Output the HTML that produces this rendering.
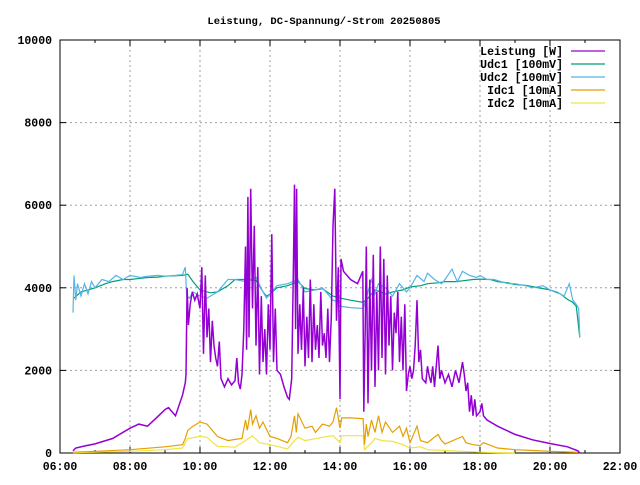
<!DOCTYPE html>
<html><head><meta charset="utf-8"><style>
body{margin:0;background:#fff}
svg text{font-family:"Liberation Mono",monospace;font-weight:bold;font-size:11.5px;fill:#000}
</style></head><body>
<svg id="chart" width="640" height="480" xmlns="http://www.w3.org/2000/svg">
<text x="324" y="24" text-anchor="middle" style="font-size:10.5px">Leistung, DC-Spannung/-Strom 20250805</text>
<g id="grid"></g>
<g id="axes"></g>
<g id="series"></g>
<g id="legend"></g>
</svg>
<script>
const xTicks=[6,8,10,12,14,16,18,20,22];
const xTickLabels=["06:00","08:00","10:00","12:00","14:00","16:00","18:00","20:00","22:00"];
const yTicks=[0,2000,4000,6000,8000,10000];
const seriesNames=["Leistung [W]","Udc1 [100mV]","Udc2 [100mV]","Idc1 [10mA]","Idc2 [10mA]"];
const seriesColors=["#9400d3","#009e73","#56b4e9","#e69f00","#f0e442"];
const pwT=[6.37,6.45,6.7,7.0,7.5,8.0,8.25,8.5,8.75,9.0,9.1,9.3,9.5,9.58,9.6,9.63,9.67,9.72,9.78,9.85,9.92,10.0,10.05,10.1,10.15,10.2,10.25,10.3,10.35,10.4,10.45,10.5,10.55,10.6,10.7,10.8,10.9,11.0,11.05,11.1,11.15,11.2,11.25,11.3,11.33,11.37,11.4,11.45,11.5,11.55,11.6,11.65,11.7,11.75,11.8,11.85,11.9,11.95,12.0,12.05,12.1,12.15,12.2,12.3,12.4,12.5,12.55,12.62,12.67,12.7,12.73,12.76,12.8,12.85,12.9,12.95,13.0,13.05,13.1,13.15,13.2,13.25,13.3,13.35,13.4,13.45,13.5,13.55,13.6,13.65,13.7,13.75,13.8,13.85,13.9,13.95,14.0,14.03,14.1,14.3,14.5,14.6,14.65,14.68,14.72,14.75,14.8,14.85,14.9,14.95,15.0,15.05,15.1,15.15,15.2,15.25,15.3,15.35,15.4,15.45,15.5,15.55,15.6,15.65,15.7,15.75,15.8,15.85,15.9,15.95,16.0,16.05,16.1,16.15,16.2,16.25,16.3,16.35,16.45,16.5,16.55,16.6,16.65,16.7,16.8,16.85,16.9,17.0,17.1,17.2,17.3,17.4,17.5,17.55,17.6,17.65,17.7,17.75,17.8,17.85,17.9,18.0,18.05,18.1,18.2,18.5,19.0,19.5,20.0,20.5,20.8,20.85];
const pwV=[50,120,170,220,350,600,700,650,850,1050,1100,900,1400,1700,1900,4000,3100,3600,3900,3700,3850,3500,4500,2400,4300,2800,3500,2200,3200,2600,2300,2100,2700,1800,1600,1800,1650,1750,2300,1700,1550,1900,3000,5000,2500,6200,2800,6400,3500,5500,2600,4500,1900,3800,2200,3000,1900,3600,2500,5300,2200,3500,2000,1900,1600,1350,1300,1800,4500,6500,3000,6400,2400,3600,2500,4000,2100,3300,2300,4200,2200,3600,2500,3100,2300,3900,2600,2900,2300,3500,2200,3300,5500,6400,3200,4500,1300,4700,4400,4200,4100,4300,4400,1000,3000,5000,1200,4200,2000,4800,1600,3900,2000,5000,2300,4700,1900,4300,2600,3800,2000,3400,2900,3900,2200,3300,2000,3600,1500,1900,2100,1800,2000,2600,3700,2200,2500,1800,1700,2100,1850,1700,2100,1600,2600,1800,2000,1700,1900,1600,2000,1700,2200,1900,1500,1700,1000,1400,900,1300,900,1000,1200,900,800,650,450,320,230,150,50,0];
const u1T=[6.4,6.6,6.8,7.0,7.3,7.5,7.8,8.0,8.3,8.5,8.8,9.0,9.3,9.5,9.65,9.8,10.0,10.3,10.5,10.8,11.0,11.3,11.6,11.8,11.9,12.0,12.2,12.5,12.8,13.0,13.3,13.5,13.8,14.0,14.3,14.66,14.8,15.0,15.3,15.5,15.8,16.0,16.3,16.5,16.8,17.0,17.3,17.5,17.8,18.0,18.3,18.5,18.8,19.0,19.3,19.5,19.8,20.0,20.3,20.5,20.65,20.75,20.85];
const u1V=[3750,3900,3950,4000,4100,4150,4200,4200,4230,4250,4260,4280,4290,4300,4330,4150,3950,3880,3900,4050,4200,4200,4180,3900,3800,3850,4000,4050,4150,3980,3950,3980,3800,3750,3700,3650,3750,3950,3850,3900,3950,4020,4050,4100,4120,4150,4150,4170,4200,4210,4200,4150,4120,4080,4060,4030,3980,3950,3850,3720,3650,3550,2800];
const u2T=[6.37,6.4,6.45,6.5,6.6,6.7,6.8,6.9,7.0,7.2,7.4,7.6,7.8,8.0,8.3,8.5,8.8,9.0,9.3,9.5,9.58,9.62,9.7,9.8,10.0,10.2,10.5,10.8,11.0,11.3,11.6,11.8,11.9,12.0,12.2,12.5,12.8,13.0,13.3,13.5,13.8,14.0,14.03,14.3,14.66,14.7,14.9,15.0,15.1,15.3,15.5,15.7,15.9,16.0,16.2,16.4,16.5,16.7,16.9,17.0,17.2,17.35,17.5,17.7,17.9,18.0,18.2,18.4,18.6,18.8,19.0,19.3,19.5,19.8,20.0,20.2,20.4,20.55,20.65,20.75,20.82,20.85];
const u2V=[3400,4300,3700,4100,3800,4100,3850,4150,4000,4200,4150,4300,4200,4300,4250,4280,4300,4280,4300,4320,4500,3800,3750,3900,3800,3750,3900,4200,4200,4150,4250,3900,3750,3850,4050,4100,4200,3900,3950,4000,3700,3650,3550,3520,3500,3600,4200,3850,4100,4000,3800,4100,3900,4000,4300,4150,4350,4200,4100,4200,4450,4150,4400,4300,4250,4300,4200,4200,4150,4100,4100,4050,4000,4050,3950,3900,3800,4100,3700,3600,3500,2800];
const i1T=[6.37,7.0,8.0,9.0,9.5,9.58,9.65,9.8,10.0,10.2,10.5,10.8,11.0,11.2,11.3,11.35,11.45,11.5,11.6,11.7,11.8,12.0,12.2,12.5,12.6,12.7,12.75,12.8,13.0,13.2,13.3,13.5,13.7,13.8,13.9,14.0,14.05,14.3,14.66,14.7,14.75,14.8,14.9,15.0,15.1,15.2,15.3,15.5,15.7,15.8,15.9,16.0,16.2,16.3,16.5,16.8,16.9,17.0,17.5,17.6,17.8,18.0,18.1,18.5,19.0,19.5,20.0,20.5,20.8];
const i1V=[20,40,80,150,200,350,550,650,750,700,400,300,330,350,800,550,1050,700,900,600,750,400,350,250,400,900,500,950,600,650,500,700,650,750,1100,600,850,850,830,200,700,400,800,500,900,500,750,500,650,400,600,250,650,300,250,450,300,220,400,250,200,180,250,120,80,60,40,25,15];
const i2T=[6.37,7.0,8.0,9.0,9.5,9.58,9.65,10.0,10.2,10.5,11.0,11.3,11.5,11.7,12.0,12.5,12.7,12.8,13.0,13.5,13.8,14.0,14.05,14.66,14.7,14.9,15.0,15.2,15.5,15.8,16.0,16.3,16.5,17.0,17.5,18.0,18.5,19.0];
const i2V=[10,20,40,80,120,250,350,400,380,160,140,300,420,250,200,100,300,380,300,380,420,250,420,420,80,250,350,300,280,200,120,150,80,60,40,20,10,5];
const X0=60,X1=620,Y0=453,Y1=40;
const xs=t=>X0+(t-6)/16*(X1-X0);
const ys=v=>Y0-v/10000*(Y0-Y1);
const NS="http://www.w3.org/2000/svg";
function mk(tag,attrs,parent){const e=document.createElementNS(NS,tag);for(const k in attrs)e.setAttribute(k,attrs[k]);parent.appendChild(e);return e;}
const grid=document.getElementById('grid'),axes=document.getElementById('axes'),ser=document.getElementById('series'),leg=document.getElementById('legend');
xTicks.forEach((t,i)=>{
  const x=xs(t);
  if(i>0&&i<xTicks.length-1){const g=mk('line',{x1:x,x2:x,y1:Y1,y2:Y0,stroke:'#a0a0a0','stroke-dasharray':'2,3'},grid);
  
  }
  mk('line',{x1:x,x2:x,y1:Y0,y2:Y0-6,stroke:'#000'},axes);
  mk('line',{x1:x,x2:x,y1:Y1,y2:Y1+6,stroke:'#000'},axes);
  if(i<xTicks.length-1){const xm=xs(t+1);mk('line',{x1:xm,x2:xm,y1:Y0,y2:Y0-3,stroke:'#000'},axes);mk('line',{x1:xm,x2:xm,y1:Y1,y2:Y1+3,stroke:'#000'},axes);}
  const tx=mk('text',{x:x,y:470,'text-anchor':'middle'},axes);tx.textContent=xTickLabels[i];
  
  
});
yTicks.forEach((v,i)=>{
  const y=ys(v);
  if(i>0&&i<yTicks.length-1){const g=mk('line',{x1:X0,x2:X1,y1:y,y2:y,stroke:'#a0a0a0','stroke-dasharray':'2,3'},grid);
  
  }
  mk('line',{x1:X0,x2:X0+6,y1:y,y2:y,stroke:'#000'},axes);
  mk('line',{x1:X1,x2:X1-6,y1:y,y2:y,stroke:'#000'},axes);
  const tx=mk('text',{x:52,y:y+4,'text-anchor':'end'},axes);tx.textContent=v;
  
  
});
const frame=mk('rect',{x:X0,y:Y1,width:X1-X0,height:Y0-Y1,fill:'none',stroke:'#000'},axes);


const data=[[pwT,pwV],[u1T,u1V],[u2T,u2V],[i1T,i1V],[i2T,i2V]];
const order=[4,3,1,2,0];
order.forEach(k=>{
  const [T,V]=data[k];
  let d='';
  T.forEach((t,j)=>{d+=(j?'L':'M')+xs(t).toFixed(1)+','+ys(V[j]).toFixed(1);});
  const p=mk('path',{d:d,fill:'none',stroke:seriesColors[k],'stroke-width':k===0?1.5:1.2},ser);
  
  
});
seriesNames.forEach((n,k)=>{
  const y=51+k*13;
  const tx=mk('text',{x:563,y:y+4,'text-anchor':'end'},leg);tx.textContent=n;
  
  
  const l=mk('line',{x1:571,x2:605,y1:y,y2:y,stroke:seriesColors[k],'stroke-width':1.2},leg);
  
  
});
</script>
</body></html>
